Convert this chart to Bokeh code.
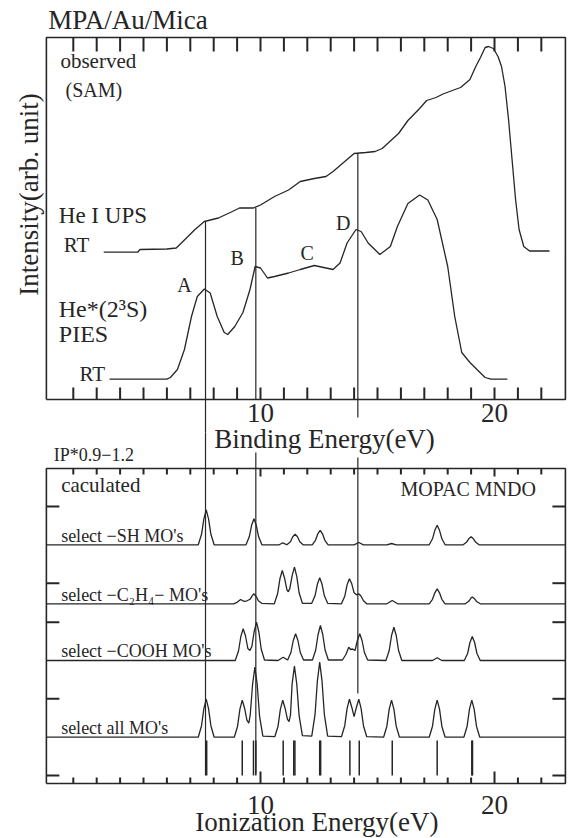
from math import pi
from bokeh.plotting import figure
from bokeh.models import Range1d, Label
from bokeh.embed import file_html
from bokeh.resources import INLINE

FONT = "Liberation Serif"
INK = "#262626"

# ---------------- observed spectra (binding energy eV, intensity arb.) ----------------
ups_e = [3.3, 4.75, 4.85, 6.0, 6.4, 6.9, 7.2, 7.6, 8.2, 8.8, 9.1, 9.7, 10.0, 10.6, 11.2, 11.7,
         12.3, 12.8, 13.1, 13.5, 14.0, 14.5, 14.9, 15.2, 15.9, 16.3, 16.8, 17.1, 17.5, 17.8,
         18.2, 18.55, 18.95, 19.2, 19.4, 19.6, 19.75, 19.95, 20.15, 20.3, 20.45, 20.6, 20.75,
         20.9, 21.05, 21.25, 21.5, 22.35]
ups_i = [147.3, 147.3, 150, 150.5, 151.5, 163, 170, 178, 181.5, 188, 191.5, 191.5, 194.5, 203,
         209.5, 218, 221, 223, 228, 236, 246, 247, 248, 251, 266, 279, 291, 299, 302, 305.5,
         309, 312, 320, 333, 342, 352, 353, 351, 343, 333, 313, 280, 240, 200, 170, 153,
         148.5, 148.5]

pies_e = [3.55, 6.0, 6.15, 6.45, 6.75, 7.05, 7.3, 7.6, 7.85, 8.15, 8.45, 8.6, 8.9, 9.25, 9.55,
          9.77, 10.0, 10.3, 10.6, 11.2, 11.7, 12.3, 12.8, 13.1, 13.4, 13.7, 14.08, 14.3, 14.6,
          15.1, 15.55, 15.85, 16.3, 16.8, 17.15, 17.55, 18.0, 18.3, 18.6, 18.95, 19.25, 19.6,
          19.85, 20.55]
pies_i = [20.3, 20.3, 22, 30, 50, 83, 103, 110.5, 106.5, 83, 67, 65, 73, 87, 110, 133, 131.5,
          121.5, 123, 126.5, 130, 134, 131.5, 130, 136.5, 156.5, 170, 168, 156.5, 145, 153,
          173, 196, 204.5, 199.5, 180, 133, 83, 47, 37, 30, 22, 20.3, 20.3]

peak_names = ["A", "B", "C", "D"]
peak_name_e = [6.75, 9.0, 11.99, 13.53]
peak_name_i = [108, 135, 140, 170]

guide_e = [7.65, 9.8, 14.16]          # guide lines through observed bands A, B, D
guide_top = [178, 191.5, 246.5]       # UPS intensity where each guide starts

# ---------------- calculated spectra (ionization energy eV, relative intensity) ----------------
sh_e = [0.85, 7.34, 7.48, 7.58, 7.68, 7.78, 7.88, 8.02, 9.38, 9.52, 9.62, 9.72, 9.82, 9.92, 10.06,
        10.8, 10.95, 11.1, 11.14, 11.28, 11.38, 11.48, 11.58, 11.68, 11.82, 12.21, 12.35, 12.45,
        12.55, 12.65, 12.75, 12.89, 14.0, 14.2, 14.4, 15.4, 15.6, 15.8, 17.21, 17.35, 17.45,
        17.55, 17.65, 17.75, 17.89, 18.66, 18.8, 18.9, 19.0, 19.1, 19.2, 19.34, 23.03]
sh_h = [0, 0, 10.5, 26, 35, 26, 10.5, 0, 0, 8, 19.5, 26, 19.5, 8, 0, 0, 2, 0.3, 0.3, 3, 8, 10.5,
        8, 3, 0, 0, 4.5, 11, 14.5, 11, 4.5, 0, 0, 2.3, 0, 0, 1.3, 0, 0, 6, 14.5, 19.5, 14.5, 6,
        0, 0, 2.5, 6, 8, 6, 2.5, 0, 0]

c2h4_e = [0.85, 8.85, 9.0, 9.15, 9.3, 9.43, 9.55, 9.63, 9.71, 9.81, 9.91, 10.05, 10.59, 10.73,
          10.83, 10.93, 11.03, 11.13, 11.19, 11.25, 11.35, 11.45, 11.55, 11.65, 11.79, 12.19,
          12.33, 12.43, 12.53, 12.63, 12.73, 12.87, 13.46, 13.6, 13.7, 13.8, 13.9, 14.0, 14.1,
          14.2, 14.3, 14.4, 14.54, 15.4, 15.63, 15.86, 17.21, 17.35, 17.45, 17.55, 17.65, 17.75,
          17.89, 18.75, 18.9, 19.0, 19.05, 19.15, 19.25, 19.39, 23.03]
c2h4_h = [0, 0, 1.5, 4.3, 2.5, 3, 4.5, 7.5, 10, 7.5, 3, 0.5, 0, 10, 25, 33.3, 25.5, 14, 12, 15,
          28, 36.7, 27.5, 11, 0.5, 0.5, 8, 19.5, 26, 19.5, 8, 0.5, 0, 7.5, 19, 25, 20, 11, 9, 10,
          7.5, 3, 0, 0, 3.3, 0, 0, 4.5, 11, 15, 11, 4.5, 0, 0, 2.5, 6, 6.7, 5, 2, 0, 0]

cooh_e = [0.85, 8.92, 9.06, 9.16, 9.26, 9.36, 9.46, 9.55, 9.63, 9.73, 9.83, 9.93, 10.03, 10.17,
          10.75, 10.97, 11.16, 11.3, 11.4, 11.5, 11.6, 11.7, 11.84, 12.22, 12.36, 12.46, 12.56,
          12.66, 12.76, 12.9, 13.5, 13.65, 13.77, 13.85, 13.93, 14.04, 14.14, 14.24, 14.34,
          14.44, 14.58, 15.36, 15.5, 15.6, 15.7, 15.8, 15.9, 16.04, 17.35, 17.55, 17.75, 18.71,
          18.85, 18.95, 19.05, 19.15, 19.25, 19.39, 23.03]
cooh_h = [0, 0, 9.5, 24, 31.7, 24.5, 12, 10, 14, 29, 38.3, 28.5, 11.5, 0.5, 0, 3.3, 0.5, 8, 20,
          26.7, 20, 8, 0.5, 0.5, 10.5, 26, 35, 26, 10.5, 0.5, 0.5, 6, 13.3, 11, 11.5, 10, 20,
          26.7, 20, 8, 0.5, 0, 10, 25, 33.3, 25, 10, 0, 0, 2.7, 0, 0, 7, 18, 24, 18, 7, 0, 0]

all_e = [0.85, 7.34, 7.48, 7.58, 7.68, 7.78, 7.88, 8.02, 8.88, 9.02, 9.12, 9.22, 9.32, 9.42, 9.5,
         9.56, 9.66, 9.76, 9.86, 9.96, 10.1, 10.61, 10.75, 10.85, 10.95, 11.05, 11.15, 11.22,
         11.28, 11.35, 11.45, 11.55, 11.65, 11.79, 12.19, 12.33, 12.43, 12.53, 12.63, 12.73,
         12.87, 13.46, 13.6, 13.7, 13.8, 13.9, 14.0, 14.1, 14.2, 14.3, 14.4, 14.54, 15.26, 15.4,
         15.5, 15.6, 15.7, 15.8, 15.94, 17.21, 17.35, 17.45, 17.55, 17.65, 17.75, 17.89, 18.69,
         18.83, 18.93, 19.03, 19.13, 19.23, 19.37, 23.03]
all_h = [0, 0, 11.5, 28.5, 38, 28.5, 11.5, 0, 0, 11, 28, 37, 29, 17, 14, 22, 52.5, 70, 52.5, 21,
         1, 0.5, 11, 28, 37, 29, 18, 15.5, 22, 53, 71, 53, 21.5, 1.5, 1, 22.5, 56, 75, 56, 22.5,
         1, 0.5, 11.5, 28.5, 38, 30, 20.5, 30, 38, 28.5, 11.5, 0.5, 0, 11, 28, 37, 28, 11, 0, 0,
         11, 28, 37, 28, 11, 0, 0, 11, 28, 37, 28, 11, 0, 0]

mo_levels = [7.70, 9.22, 9.70, 9.80, 10.97, 11.42, 11.47, 12.53, 12.57, 13.82, 14.22, 15.63,
             17.55, 19.03, 19.06]

trace_labels = ["select \u2212SH MO's", "select \u2212C\u2082H\u2084\u2212 MO's",
                "select  \u2212COOH MO's", "select all MO's"]
trace_offsets = [238.7, 179.7, 123, 46.3]
side_ticks = [277, 200.3, 161.3, 84.7, 8]

x_ticks_major = [10.0, 20.0]
x_ticks_minor = [float(t) for t in range(2, 23) if t not in (10, 20)]
x_ticks_all = [float(t) for t in range(2, 23)]

# ---------------- layout constants ----------------
PX_PER_EV = 23.4
X0, X1 = 0.85, 23.03              # energy limits of both panel boxes
OBS_TOP, CALC_TOP = 362.0, 315.0  # box heights in each panel's own units (1 unit = 1 px)
BASELINE_FIX = 0.35               # renderer places alphabetic baselines ~0.35 em low

p = figure(width=568, height=838, x_range=Range1d(-1.111, 23.162),
           y_range=Range1d(-439, 399), output_backend="svg", toolbar_location=None,
           x_axis_location=None, y_axis_location=None, min_border=0,
           outline_line_color=None, background_fill_color="white",
           border_fill_color="white")
p.extra_y_ranges = {"calc": Range1d(-55, 783)}
p.grid.visible = False


def txt(x, y, s, size, align="left", rng="default"):
    p.add_layout(Label(x=x, y=y + BASELINE_FIX * size, text=s, text_font=FONT,
                       text_font_size=f"{size}px", text_color=INK, text_align=align,
                       text_baseline="alphabetic", y_range_name=rng))


def box(top, rng):
    # panel frame drawn as a closed polyline
    p.line([X0, X1, X1, X0, X0], [0, 0, top, top, 0], line_color=INK, line_width=1.6,
           y_range_name=rng)


def xticks(ticks, y0, y1, rng):
    p.multi_line(xs=[[t, t] for t in ticks], ys=[[y0, y1] for _ in ticks],
                 line_color=INK, line_width=2, y_range_name=rng)


def yticks(ticks, x0, x1, rng):
    p.multi_line(xs=[[x0, x1] for _ in ticks], ys=[[t, t] for t in ticks],
                 line_color=INK, line_width=2, y_range_name=rng)


# ======================= observed panel =======================
box(OBS_TOP, "default")
xticks(x_ticks_all, 0.0, 12.0, "default")
xticks(x_ticks_all, OBS_TOP - 14, OBS_TOP, "default")

p.line(ups_e, ups_i, line_color=INK, line_width=1.3)
p.line(pies_e, pies_i, line_color=INK, line_width=1.3)

for s, x, y in zip(peak_names, peak_name_e, peak_name_i):
    txt(x, y, s, 20, "center")

txt(0.927, 369.7, "MPA/Au/Mica", 27)
txt(1.45, 330.7, "observed", 21)
txt(1.67, 302.3, "(SAM)", 20)
txt(1.38, 176.3, "He I UPS", 23)
txt(1.59, 147.3, "RT", 21)
txt(1.38, 82, "He*(2\u00b3S)", 24)
txt(1.38, 57, "PIES", 24)
txt(2.27, 18, "RT", 21)
for t in x_ticks_major:
    txt(t, -22.7, str(int(t)), 27, "center")
txt(12.735, -49.3, "Binding Energy(eV)", 27, "center")
p.add_layout(Label(x=0.098, y=205, text="Intensity(arb. unit)", text_font=FONT,
                   text_font_size="27px", text_color=INK, text_align="center",
                   text_baseline="middle", angle=pi / 2))

# guide lines: upper parts
p.segment(x0=guide_e, y0=guide_top, x1=guide_e, y1=[-33, 0, -18], line_color=INK, line_width=1.2)

# ======================= calculated panel =======================
box(CALC_TOP, "calc")
xticks(x_ticks_major, 0.0, 12.0, "calc")
xticks(x_ticks_minor, 0.0, 6.0, "calc")
xticks(x_ticks_major, CALC_TOP - 8, CALC_TOP, "calc")
xticks(x_ticks_minor, CALC_TOP - 6, CALC_TOP, "calc")
tick_len = 13 / PX_PER_EV
yticks(side_ticks, X0, X0 + tick_len, "calc")
yticks(side_ticks, X1 - tick_len, X1, "calc")

for xs, hs, off in zip([sh_e, c2h4_e, cooh_e, all_e], [sh_h, c2h4_h, cooh_h, all_h], trace_offsets):
    p.line(xs, [off + v for v in hs], line_color=INK, line_width=1.3, y_range_name="calc")

p.segment(x0=mo_levels, y0=8, x1=mo_levels, y1=43, line_color=INK, line_width=1.5,
          y_range_name="calc")

txt(1.167, 322, "IP*0.9\u22121.2", 18, rng="calc")
txt(1.48, 291.3, "caculated", 21, rng="calc")
txt(15.98, 288, "MOPAC MNDO", 20, rng="calc")
for s, off in zip(trace_labels, trace_offsets):
    txt(1.48, off + 3, s, 18, rng="calc")
for t in x_ticks_major:
    txt(t, -31, str(int(t)), 27, "center", rng="calc")
txt(12.406, -47.7, "Ionization Energy(eV)", 27, "center", rng="calc")

# guide lines: lower parts
p.segment(x0=guide_e, y0=[351, 331, 326], x1=guide_e, y1=[8, 10, 90], line_color=INK,
          line_width=1.2, y_range_name="calc")

open("out.html", "w").write(file_html(p, INLINE))
